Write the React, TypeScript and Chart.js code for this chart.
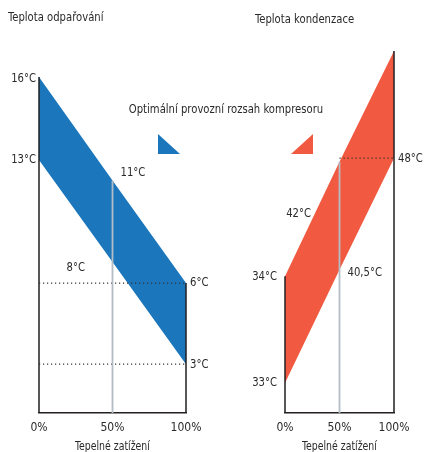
import React, { useEffect, useRef } from 'react';
import { Chart, registerables } from 'chart.js';

Chart.register(...registerables);

// ---------- data ----------
// Thermal load (x axis), %
const loads = [0, 50, 100];
const loadTickStep = 50;

// Evaporation temperature (left diagram), °C at 0 %, 50 %, 100 % load
const evapUpperTemps = [16, 11, 6];
const evapLowerTemps = [13, 8, 3];
// schematic height of the band edges (diagram units 0..100) at 0 %, 50 %, 100 % load
const evapUpperLevel = [92.8, 64.2, 35.9];
const evapLowerLevel = [69.9, 41.7, 13.5];

// Condensation temperature (right diagram), °C
const condUpperTemps = [34, 42];
const condLowerTemps = [33, 40.5, 48];
const condUpperLevel = [37.8, 69.4, 100];
const condLowerLevel = [8.3, 39.6, 70.4];

const titleLeft = 'Teplota odpařování';
const titleRight = 'Teplota kondenzace';
const legendText = 'Optimální provozní rozsah kompresoru';
const xTitle = 'Tepelné zatížení';

// ---------- style ----------
const FONT = "'DejaVu Sans Condensed', 'Liberation Sans Narrow', 'Liberation Sans', sans-serif";
const SX = 0.86; // horizontal condensing of annotation text
const TEXT = '#2a2a2a';
const BLUE = '#1b76bc';
const RED = '#f15a40';
const AXIS = '#231f20';
const GUIDE = '#b3bdc6';
const DOT = '#333333';

const fmt = (t: number) => String(t).replace('.', ',') + '°C';
const pts = (levels: number[]) => loads.map((x, i) => ({ x, y: levels[i] }));

const bandSets = (upper: number[], lower: number[], color: string) => [
  { data: pts(upper), borderWidth: 0, borderColor: color, backgroundColor: color, fill: '+1', pointRadius: 0, order: 5, clip: false, tension: 0 },
  { data: pts(lower), borderWidth: 0, borderColor: color, backgroundColor: color, fill: false, pointRadius: 0, order: 5, clip: false, tension: 0 },
];

const seg = (a: { x: number; y: number }, b: { x: number; y: number }, color: string, width: number, dash: number[] = []) => ({
  data: [a, b],
  borderColor: color,
  borderWidth: width,
  borderDash: dash,
  borderCapStyle: 'butt',
  pointRadius: 0,
  fill: false,
  order: 0,
  clip: false,
  tension: 0,
});

function txt(ctx: CanvasRenderingContext2D, s: string, x: number, y: number, align: CanvasTextAlign, sx = SX) {
  ctx.save();
  ctx.translate(x, y);
  ctx.scale(sx, 1);
  ctx.textAlign = align;
  ctx.fillText(s, 0, 0);
  ctx.restore();
}

function makeConfig(datasets: any[], padding: any, draw: (ctx: CanvasRenderingContext2D, px: (v: number) => number, py: (v: number) => number) => void): any {
  return {
    type: 'line',
    data: { datasets },
    options: {
      responsive: false,
      animation: false,
      devicePixelRatio: 1,
      layout: { padding },
      events: [],
      plugins: { legend: { display: false }, tooltip: { enabled: false }, title: { display: false } },
      scales: {
        x: {
          type: 'linear',
          min: loads[0],
          max: loads[loads.length - 1],
          grid: { display: false, drawTicks: false, tickLength: 0 },
          border: { display: true, color: AXIS, width: 1.5 },
          ticks: {
            stepSize: loadTickStep,
            padding: 8,
            color: TEXT,
            font: { family: FONT, size: 12 },
            callback: (v: number) => v + '%',
          },
          title: { display: false },
        },
        y: { type: 'linear', min: 0, max: 100, display: false },
      },
    },
    plugins: [
      {
        id: 'extras',
        afterDraw(chart: any) {
          const ctx = chart.ctx as CanvasRenderingContext2D;
          const xs = chart.scales.x;
          const ys = chart.scales.y;
          ctx.save();
          ctx.fillStyle = TEXT;
          ctx.font = `13px ${FONT}`;
          ctx.textBaseline = 'middle';
          // x axis title under the tick labels
          txt(ctx, xTitle, (xs.left + xs.right) / 2, 447, 'center', 0.8);
          draw(ctx, (v) => xs.getPixelForValue(v), (v) => ys.getPixelForValue(v));
          ctx.restore();
        },
      },
    ],
  };
}

export default function App() {
  const leftRef = useRef<HTMLCanvasElement>(null);
  const rightRef = useRef<HTMLCanvasElement>(null);

  useEffect(() => {
    // ----- left: evaporation -----
    const leftSets = [
      ...bandSets(evapUpperLevel, evapLowerLevel, BLUE),
      seg({ x: 50, y: evapUpperLevel[1] }, { x: 50, y: 0 }, GUIDE, 1.8),
      seg({ x: 0, y: evapUpperLevel[2] }, { x: 100, y: evapUpperLevel[2] }, DOT, 1.2, [1.2, 2.8]),
      seg({ x: 0, y: evapLowerLevel[2] }, { x: 100, y: evapLowerLevel[2] }, DOT, 1.2, [1.2, 2.8]),
      seg({ x: 0, y: evapUpperLevel[0] }, { x: 0, y: 0 }, AXIS, 1.5),
      seg({ x: 100, y: evapUpperLevel[2] }, { x: 100, y: 0 }, AXIS, 1.5),
    ];
    const c1 = new Chart(
      leftRef.current!,
      makeConfig(leftSets, { left: 39, right: 239, top: 51, bottom: 8.6 }, (ctx, px, py) => {
        txt(ctx, titleLeft, 8, 18, 'left');
        txt(ctx, legendText, 226, 110, 'center');
        // legend triangle
        ctx.fillStyle = BLUE;
        ctx.beginPath();
        ctx.moveTo(158, 134);
        ctx.lineTo(158, 154);
        ctx.lineTo(180, 154);
        ctx.closePath();
        ctx.fill();
        ctx.fillStyle = TEXT;
        txt(ctx, fmt(evapUpperTemps[0]), px(0) - 3, py(evapUpperLevel[0]) + 2, 'right');
        txt(ctx, fmt(evapLowerTemps[0]), px(0) - 3, py(evapLowerLevel[0]), 'right');
        txt(ctx, fmt(evapUpperTemps[1]), px(50) + 8, py(evapUpperLevel[1]) - 8, 'left');
        txt(ctx, fmt(evapLowerTemps[1]), px(25), py(evapLowerLevel[1]) + 6, 'center');
        txt(ctx, fmt(evapUpperTemps[2]), px(100) + 4, py(evapUpperLevel[2]), 'left');
        txt(ctx, fmt(evapLowerTemps[2]), px(100) + 4, py(evapLowerLevel[2]), 'left');
      })
    );

    // ----- right: condensation -----
    const rightSets = [
      ...bandSets(condUpperLevel, condLowerLevel, RED),
      seg({ x: 50, y: condUpperLevel[1] }, { x: 50, y: 0 }, GUIDE, 1.8),
      seg({ x: 50, y: condLowerLevel[2] }, { x: 100, y: condLowerLevel[2] }, DOT, 1.2, [1.2, 2.8]),
      seg({ x: 0, y: condUpperLevel[0] }, { x: 0, y: 0 }, AXIS, 1.5),
      seg({ x: 100, y: condUpperLevel[2] }, { x: 100, y: 0 }, AXIS, 1.5),
    ];
    const c2 = new Chart(
      rightRef.current!,
      makeConfig(rightSets, { left: 285, right: 31, top: 51, bottom: 8.6 }, (ctx, px, py) => {
        txt(ctx, titleRight, 255, 20, 'left');
        ctx.fillStyle = RED;
        ctx.beginPath();
        ctx.moveTo(313, 134);
        ctx.lineTo(313, 154);
        ctx.lineTo(291, 154);
        ctx.closePath();
        ctx.fill();
        ctx.fillStyle = TEXT;
        txt(ctx, fmt(condUpperTemps[0]), px(0) - 8, py(condUpperLevel[0]), 'right');
        txt(ctx, fmt(condLowerTemps[0]), px(0) - 8, py(condLowerLevel[0]), 'right');
        // 42 °C label sits beside the upper edge, about a quarter of the way along
        const t = 0.55;
        const y42 = condUpperLevel[0] + (condUpperLevel[1] - condUpperLevel[0]) * t;
        txt(ctx, fmt(condUpperTemps[1]), px(50 * t) - 4, py(y42), 'right');
        txt(ctx, fmt(condLowerTemps[1]), px(50) + 8, py(condLowerLevel[1]) + 3, 'left');
        txt(ctx, fmt(condLowerTemps[2]), px(100) + 4, py(condLowerLevel[2]), 'left');
      })
    );

    return () => {
      c1.destroy();
      c2.destroy();
    };
  }, []);

  return (
    <div style={{ position: 'absolute', left: 0, top: 0, width: 425, height: 452, overflow: 'hidden', background: '#fff' }}>
      <canvas ref={leftRef} width={425} height={452} style={{ position: 'absolute', left: 0, top: 0 }} />
      <canvas ref={rightRef} width={425} height={452} style={{ position: 'absolute', left: 0, top: 0 }} />
    </div>
  );
}
